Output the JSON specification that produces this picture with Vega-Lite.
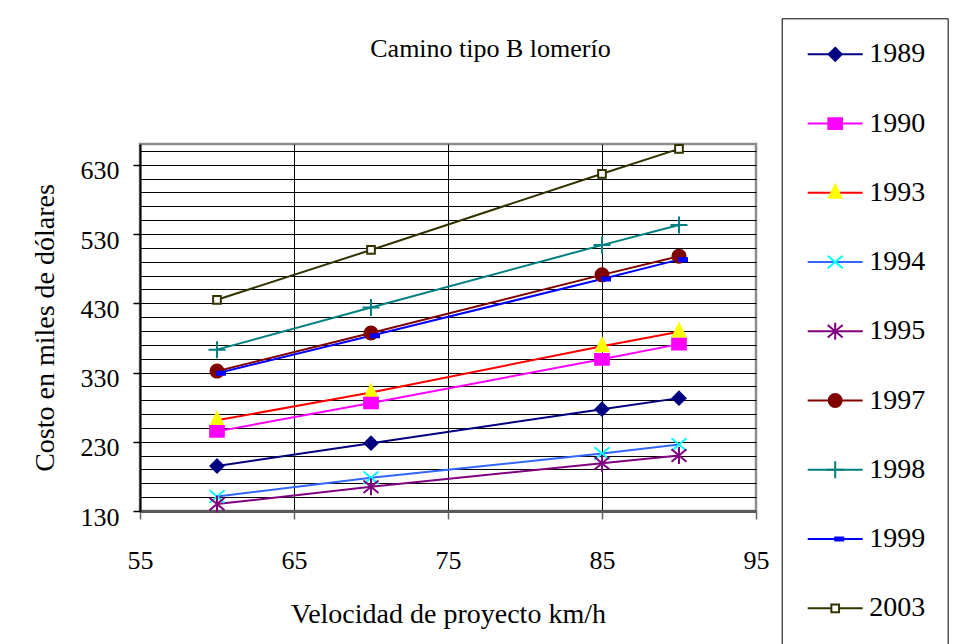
{
  "$schema": "https://vega.github.io/schema/vega-lite/v6.json",
  "width": 616,
  "height": 367,
  "autosize": {"type": "none"},
  "padding": {"left": 140, "top": 144, "right": 207, "bottom": 133},
  "background": "white",
  "config": {
    "font": "Liberation Serif",
    "view": {"stroke": "#8c8c8c", "strokeWidth": 2.5},
    "axis": {
      "labelFont": "Liberation Serif",
      "titleFont": "Liberation Serif",
      "labelColor": "black",
      "titleColor": "black",
      "titleFontWeight": "normal"
    },
    "legend": {"labelFont": "Liberation Serif"}
  },
  "data": {
    "values": [
      {"anio": "1989", "velocidad": 60, "costo": 195},
      {"anio": "1989", "velocidad": 70, "costo": 228},
      {"anio": "1989", "velocidad": 85, "costo": 277},
      {"anio": "1989", "velocidad": 90, "costo": 293},
      {"anio": "1993", "velocidad": 60, "costo": 261},
      {"anio": "1993", "velocidad": 70, "costo": 301},
      {"anio": "1993", "velocidad": 85, "costo": 368},
      {"anio": "1993", "velocidad": 90, "costo": 389},
      {"anio": "1990", "velocidad": 60, "costo": 245},
      {"anio": "1990", "velocidad": 70, "costo": 286},
      {"anio": "1990", "velocidad": 85, "costo": 349},
      {"anio": "1990", "velocidad": 90, "costo": 371},
      {"anio": "1994", "velocidad": 60, "costo": 151},
      {"anio": "1994", "velocidad": 70, "costo": 178},
      {"anio": "1994", "velocidad": 85, "costo": 213},
      {"anio": "1994", "velocidad": 90, "costo": 226},
      {"anio": "1995", "velocidad": 60, "costo": 140},
      {"anio": "1995", "velocidad": 70, "costo": 165},
      {"anio": "1995", "velocidad": 85, "costo": 199},
      {"anio": "1995", "velocidad": 90, "costo": 210},
      {"anio": "1997", "velocidad": 60, "costo": 332},
      {"anio": "1997", "velocidad": 70, "costo": 387},
      {"anio": "1997", "velocidad": 85, "costo": 471},
      {"anio": "1997", "velocidad": 90, "costo": 498},
      {"anio": "1998", "velocidad": 60, "costo": 363},
      {"anio": "1998", "velocidad": 70, "costo": 424},
      {"anio": "1998", "velocidad": 85, "costo": 514},
      {"anio": "1998", "velocidad": 90, "costo": 543},
      {"anio": "1999", "velocidad": 60, "costo": 329},
      {"anio": "1999", "velocidad": 70, "costo": 383},
      {"anio": "1999", "velocidad": 85, "costo": 465},
      {"anio": "1999", "velocidad": 90, "costo": 493},
      {"anio": "2003", "velocidad": 60, "costo": 435},
      {"anio": "2003", "velocidad": 70, "costo": 507},
      {"anio": "2003", "velocidad": 85, "costo": 617},
      {"anio": "2003", "velocidad": 90, "costo": 653}
    ]
  },
  "layer": [
    {
      "mark": {"type": "line", "strokeWidth": 2},
      "encoding": {
        "x": {
          "field": "velocidad",
          "type": "quantitative",
          "scale": {"domain": [55, 95], "nice": false, "zero": false},
          "axis": {
            "orient": "bottom",
            "values": [55, 65, 75, 85, 95],
            "tickCount": 10,
            "labelFontSize": 26,
            "labelPadding": 28,
            "labelFlush": false,
            "labelOverlap": false,
            "tickSize": 8,
            "tickColor": "#666666",
            "tickWidth": 1.5,
            "domainColor": "#5a5a5a",
            "domainWidth": 3,
            "grid": true,
            "gridColor": {"condition": {"test": "datum.value > 55 && datum.value < 95", "value": "black"}, "value": "transparent"},
            "gridWidth": 1,
            "title": "Velocidad de proyecto km/h",
            "titleFontSize": 28,
            "titleY": 111,
            "titleBaseline": "alphabetic"
          }
        },
        "y": {
          "field": "costo",
          "type": "quantitative",
          "scale": {"domain": [130, 660], "nice": false, "zero": false},
          "axis": {
            "values": [130, 150, 170, 190, 210, 230, 250, 270, 290, 310, 330, 350, 370, 390, 410, 430, 450, 470, 490, 510, 530, 550, 570, 590, 610, 630, 650],
            "tickCount": 40,
            "labelExpr": "(datum.value - 130) % 100 === 0 ? datum.label : ''",
            "labelFontSize": 26,
            "labelPadding": 14,
            "labelOffset": 6,
            "labelOverlap": false,
            "labelFlush": false,
            "tickSize": 7,
            "tickWidth": 1.5,
            "tickColor": {"condition": {"test": "(datum.value - 130) % 100 === 0", "value": "black"}, "value": "transparent"},
            "grid": true,
            "gridColor": {"condition": {"test": "datum.value > 130", "value": "black"}, "value": "transparent"},
            "gridWidth": 1,
            "domainColor": "black",
            "domainWidth": 2,
            "title": "Costo en miles de dólares",
            "titleFontSize": 28,
            "titleX": -87,
            "titleY": 183.5,
            "titleAlign": "center",
            "titleBaseline": "alphabetic"
          }
        },
        "color": {
          "field": "anio",
          "type": "nominal",
          "scale": {
            "domain": ["1989", "1990", "1993", "1994", "1995", "1997", "1998", "1999", "2003"],
            "range": ["#000080", "#FF00FF", "#FF0000", "#3366FF", "#800080", "#800000", "#008080", "#0000FF", "#333300"]
          },
          "legend": {
            "orient": "none",
            "legendX": 641.7,
            "legendY": -125.7,
            "direction": "vertical",
            "title": null,
            "symbolType": "M-5.5,0H5.5",
            "symbolSize": 100,
            "symbolStrokeWidth": 2,
            "symbolOffset": 17.5,
            "labelFontSize": 28,
            "labelColor": "black",
            "labelOffset": 20,
            "rowPadding": 41.25,
            "padding": 22,
            "strokeColor": "black"
          }
        }
      }
    },
    {
      "mark": {"type": "point", "filled": true, "opacity": 1, "strokeWidth": 2, "size": 100},
      "encoding": {
        "x": {
          "field": "velocidad",
          "type": "quantitative",
          "axis": {
            "orient": "top",
            "domain": false,
            "ticks": false,
            "labels": false,
            "grid": false,
            "title": "Camino tipo B lomerío",
            "titleFontSize": 26,
            "titleX": 350,
            "titleY": -87.3,
            "titleAlign": "center",
            "titleBaseline": "alphabetic"
          }
        },
        "y": {"field": "costo", "type": "quantitative"},
        "fill": {
          "field": "anio",
          "type": "nominal",
          "scale": {"range": ["#000080", "#FF00FF", "#FFFF00", "transparent", "transparent", "#800000", "transparent", "#0000FF", "#FFFFFF"]},
          "legend": {
            "orient": "none", "legendX": 641.7, "legendY": -125.7, "direction": "vertical", "title": null,
            "symbolSize": 100, "symbolStrokeWidth": 2, "symbolOffset": 17.5, "symbolOpacity": 1,
            "labelFontSize": 28, "labelExpr": "''", "labelOffset": 20, "rowPadding": 41.25, "padding": 22
          }
        },
        "stroke": {
          "field": "anio",
          "type": "nominal",
          "scale": {"range": ["#000080", "#FF00FF", "#FFFF00", "#00FFFF", "#800080", "#800000", "#008080", "#0000FF", "#333300"]},
          "legend": {
            "orient": "none", "legendX": 641.7, "legendY": -125.7, "direction": "vertical", "title": null,
            "symbolSize": 100, "symbolStrokeWidth": 2, "symbolOffset": 17.5, "symbolOpacity": 1,
            "labelFontSize": 28, "labelExpr": "''", "labelOffset": 20, "rowPadding": 41.25, "padding": 22
          }
        },
        "shape": {
          "field": "anio",
          "type": "nominal",
          "scale": {
            "range": [
              "M0,-1.3L1.3,0L0,1.3L-1.3,0Z",
              "M-1.37,-1.07H1.37V1.07H-1.37Z",
              "M0,-1.6L1.26,1L-1.26,1Z",
              "M-1.5,-1.25L1.5,1.25M-1.5,1.25L1.5,-1.25",
              "M-1.5,-1.25L1.5,1.25M-1.5,1.25L1.5,-1.25M0,-1.7V1.7",
              "M1.3,0A1.3,1.3,0,1,1,-1.3,0A1.3,1.3,0,1,1,1.3,0Z",
              "M-1.7,0H1.7M0,-1.7V1.7",
              "M0,-0.3H1.6V0.3H0Z",
              "M-0.77,-0.77H0.77V0.77H-0.77Z"
            ]
          },
          "legend": {
            "orient": "none", "legendX": 641.7, "legendY": -125.7, "direction": "vertical", "title": null,
            "symbolSize": 100, "symbolStrokeWidth": 2, "symbolOffset": 17.5, "symbolOpacity": 1,
            "labelFontSize": 28, "labelExpr": "''", "labelOffset": 20, "rowPadding": 41.25, "padding": 22
          }
        }
      }
    }
  ]
}
